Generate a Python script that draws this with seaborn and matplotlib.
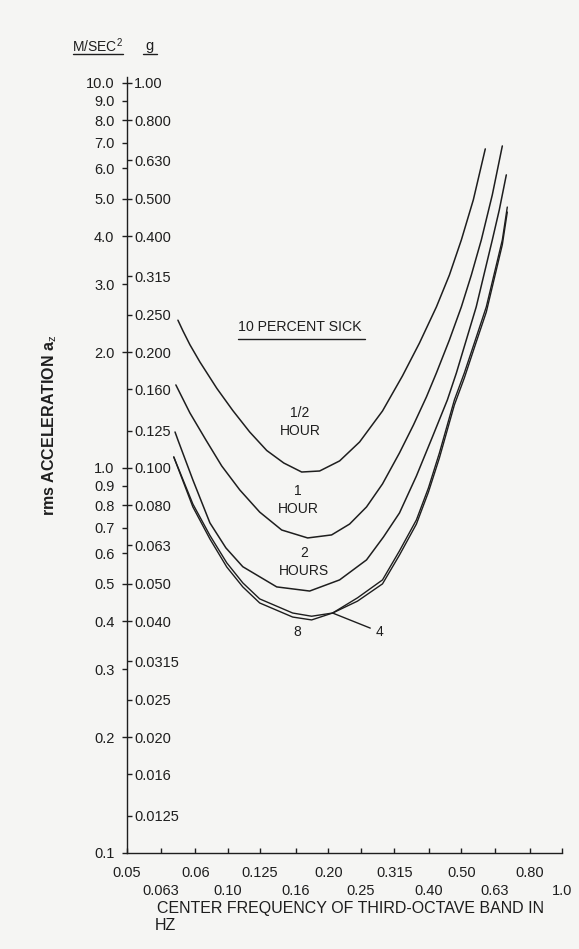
import numpy as np
import pandas as pd
import matplotlib
matplotlib.use("Agg")
import matplotlib.pyplot as plt
from matplotlib.ticker import FixedLocator, FixedFormatter, NullLocator
from matplotlib.lines import Line2D
import seaborn as sns

# ---------------- data (frequency in Hz, rms acceleration in m/s^2) ----------------
freq_half = [0.0710, 0.0735, 0.0771, 0.0826, 0.0928, 0.1036, 0.1164, 0.1309, 0.1472, 0.1665, 0.1884,
             0.2162, 0.2481, 0.2905, 0.3333, 0.3746, 0.4211, 0.4605, 0.500, 0.5430, 0.5896]
acc_half = [2.42, 2.27, 2.09, 1.885, 1.61, 1.41, 1.24, 1.11, 1.03, 0.976, 0.982,
            1.043, 1.168, 1.406, 1.734, 2.11, 2.62, 3.17, 3.91, 4.97, 6.74]

freq_1h = [0.0700, 0.0771, 0.0861, 0.0960, 0.1087, 0.1247, 0.1451, 0.1735, 0.2046, 0.2316, 0.2602,
           0.2905, 0.3265, 0.3595, 0.3931, 0.4211, 0.4605, 0.500, 0.5356, 0.5737, 0.6188, 0.6630]
acc_1h = [1.643, 1.390, 1.182, 1.012, 0.877, 0.768, 0.690, 0.658, 0.670, 0.715, 0.792,
          0.909, 1.094, 1.293, 1.529, 1.765, 2.150, 2.62, 3.17, 3.91, 5.12, 6.86]

freq_2h = [0.0696, 0.0710, 0.0787, 0.0885, 0.0988, 0.1110, 0.1402, 0.1759, 0.2162, 0.2602, 0.2925,
           0.3265, 0.3669, 0.4097, 0.4541, 0.4832, 0.5173, 0.5539, 0.6188, 0.6493, 0.6815]
acc_2h = [1.240, 1.182, 0.931, 0.720, 0.620, 0.554, 0.491, 0.479, 0.512, 0.577, 0.662,
          0.764, 0.953, 1.204, 1.502, 1.765, 2.150, 2.62, 3.91, 4.68, 5.77]

freq_8h = [0.0690, 0.0787, 0.0885, 0.0994, 0.1110, 0.1247, 0.1565, 0.1783, 0.2060, 0.2446, 0.2905,
           0.3265, 0.3669, 0.3985, 0.4299, 0.4766, 0.5104, 0.5506, 0.5937, 0.6630, 0.6861]
acc_8h = [1.068, 0.792, 0.654, 0.553, 0.491, 0.446, 0.410, 0.403, 0.420, 0.460, 0.512,
          0.609, 0.733, 0.887, 1.094, 1.502, 1.765, 2.150, 2.62, 3.91, 4.76]

freq_4h = freq_8h
acc_4h = [1.068, 0.806, 0.668, 0.567, 0.503, 0.457, 0.420, 0.412, 0.420, 0.451, 0.500,
          0.594, 0.715, 0.865, 1.062, 1.458, 1.713, 2.09, 2.54, 3.80, 4.62]

xtick_row1 = [0.05, 0.08, 0.125, 0.20, 0.315, 0.50, 0.80]
xlabel_row1 = ["0.05", "0.06", "0.125", "0.20", "0.315", "0.50", "0.80"]
xtick_row2 = [0.063, 0.10, 0.16, 0.25, 0.40, 0.63, 1.0]
xlabel_row2 = ["0.063", "0.10", "0.16", "0.25", "0.40", "0.63", "1.0"]

ms2_ticks = [10, 9, 8, 7, 6, 5, 4, 3, 2, 1, 0.9, 0.8, 0.7, 0.6, 0.5, 0.4, 0.3, 0.2, 0.1]
ms2_labels = ["10.0", "9.0", "8.0", "7.0", "6.0", "5.0", "4.0", "3.0", "2.0",
              "1.0", "0.9", "0.8", "0.7", "0.6", "0.5", "0.4", "0.3", "0.2", "0.1"]
g_ticks = [1.0, 0.8, 0.63, 0.5, 0.4, 0.315, 0.25, 0.2, 0.16, 0.125,
           0.1, 0.08, 0.063, 0.05, 0.04, 0.0315, 0.025, 0.02, 0.016, 0.0125]
g_labels = ["1.00", "0.800", "0.630", "0.500", "0.400", "0.315", "0.250", "0.200", "0.160", "0.125",
            "0.100", "0.080", "0.063", "0.050", "0.040", "0.0315", "0.025", "0.020", "0.016", "0.0125"]

# ---------------- style ----------------
sns.set_theme(style="white")
plt.rcParams['font.family'] = ['Liberation Sans', 'DejaVu Sans']
plt.rcParams['mathtext.fontset'] = 'custom'
plt.rcParams['mathtext.rm'] = 'Liberation Sans'
ink = "#1e1e1e"
bg = "#f5f5f3"

fig = plt.figure(figsize=(5.79, 9.49), dpi=100)
fig.patch.set_facecolor(bg)
W, H = 579.0, 949.0
ax = fig.add_axes([127 / W, (H - 853) / H, 435 / W, 776 / H])
ax.set_facecolor(bg)

curves = [
    ("1/2 HOUR", freq_half, acc_half, 1.1),
    ("1 HOUR", freq_1h, acc_1h, 1.1),
    ("2 HOURS", freq_2h, acc_2h, 1.1),
    ("4 HOURS", freq_4h, acc_4h, 1.0),
    ("8 HOURS", freq_8h, acc_8h, 1.0),
]
for name, f, a, lw in curves:
    df = pd.DataFrame({"freq": f, "acc": a})
    sns.lineplot(data=df, x="freq", y="acc", ax=ax, color=ink, linewidth=lw,
                 sort=False, estimator=None, legend=False)

ax.set_xscale("log")
ax.set_yscale("log")
ax.set_xlim(0.05, 1.0)
ax.set_ylim(0.1, 10.36)
ax.set_xlabel("")
ax.set_ylabel("")

for s in ["top", "right"]:
    ax.spines[s].set_visible(False)
for s in ["left", "bottom"]:
    ax.spines[s].set_color(ink)
    ax.spines[s].set_linewidth(1.0)

# left (m/s^2) ticks
ax.yaxis.set_major_locator(FixedLocator(ms2_ticks))
ax.yaxis.set_major_formatter(FixedFormatter(ms2_labels))
ax.yaxis.set_minor_locator(NullLocator())
ax.tick_params(axis="y", which="major", direction="out", length=3.6, width=1.0,
               pad=5.5, labelsize=10.5, colors=ink, left=True)

# x ticks in two rows
ax.xaxis.set_major_locator(FixedLocator(xtick_row1))
ax.xaxis.set_major_formatter(FixedFormatter(xlabel_row1))
ax.xaxis.set_minor_locator(FixedLocator(xtick_row2))
ax.xaxis.set_minor_formatter(FixedFormatter(xlabel_row2))
ax.tick_params(axis="x", which="both", direction="in", length=3.6, width=1.0,
               labelsize=10.5, colors=ink, bottom=True)
ax.tick_params(axis="x", which="major", pad=9.2)
ax.tick_params(axis="x", which="minor", pad=22.3)

# g scale on the same spine, ticks to the right
ax2 = ax.twinx()
ax2.set_yscale("log")
ax2.set_ylim(0.01, 1.036)
ax2.spines["right"].set_position(("axes", 0.0))
for s in ax2.spines.values():
    s.set_visible(False)
ax2.yaxis.set_major_locator(FixedLocator(g_ticks))
ax2.yaxis.set_major_formatter(FixedFormatter(g_labels))
ax2.yaxis.set_minor_locator(NullLocator())
ax2.tick_params(axis="y", which="major", direction="out", length=3.6, width=1.0,
                pad=1.5, labelsize=10.5, colors=ink, right=True)

# headers above the axis
ax.text(-0.069, 1.040, "M/SEC$^{2}$", transform=ax.transAxes, ha="center", va="center",
        fontsize=10, color=ink, clip_on=False)
ax.text(0.0506, 1.040, "g", transform=ax.transAxes, ha="center", va="center",
        fontsize=10.5, color=ink, clip_on=False)
ax.add_line(Line2D([-0.124, -0.009], [1.030, 1.030], transform=ax.transAxes,
                   color=ink, lw=1.0, clip_on=False))
ax.add_line(Line2D([0.037, 0.069], [1.030, 1.030], transform=ax.transAxes,
                   color=ink, lw=1.0, clip_on=False))

# y label
fig.text(50 / W, 1 - 425 / H, r"rms ACCELERATION a$_{\mathrm{z}}$", rotation=90,
         ha="center", va="center", fontsize=11.5, fontweight="bold", color=ink)

# x label
ax.text(0.070, -0.0718, "CENTER FREQUENCY OF THIRD-OCTAVE BAND IN", transform=ax.transAxes,
        ha="left", va="center", fontsize=11.5, color=ink, clip_on=False)
ax.text(0.064, -0.0935, "HZ", transform=ax.transAxes,
        ha="left", va="center", fontsize=11.5, color=ink, clip_on=False)

# in-plot labels
ax.text(0.2552, 0.6778, "10 PERCENT SICK", transform=ax.transAxes, ha="left", va="center",
        fontsize=10.2, color=ink)
ax.add_line(Line2D([0.2552, 0.5471], [0.6624, 0.6624], transform=ax.transAxes, color=ink, lw=1.0))

ax.text(0.3977, 0.5554, "1/2\nHOUR", transform=ax.transAxes, ha="center", va="center",
        fontsize=10, color=ink, linespacing=1.3)
ax.text(0.3931, 0.4549, "1\nHOUR", transform=ax.transAxes, ha="center", va="center",
        fontsize=10, color=ink, linespacing=1.3)
ax.text(0.4069, 0.3750, "2\nHOURS", transform=ax.transAxes, ha="center", va="center",
        fontsize=10, color=ink, linespacing=1.3)
ax.text(0.3908, 0.2848, "8", transform=ax.transAxes, ha="center", va="center",
        fontsize=10, color=ink)
ax.annotate("4", xy=(0.2060, 0.420), xycoords="data",
            xytext=(0.5816, 0.2848), textcoords="axes fraction", ha="center", va="center",
            fontsize=10, color=ink,
            arrowprops=dict(arrowstyle="-", color=ink, lw=1.0, shrinkA=2, shrinkB=0))

fig.savefig("out.png", dpi=100, facecolor=bg)
